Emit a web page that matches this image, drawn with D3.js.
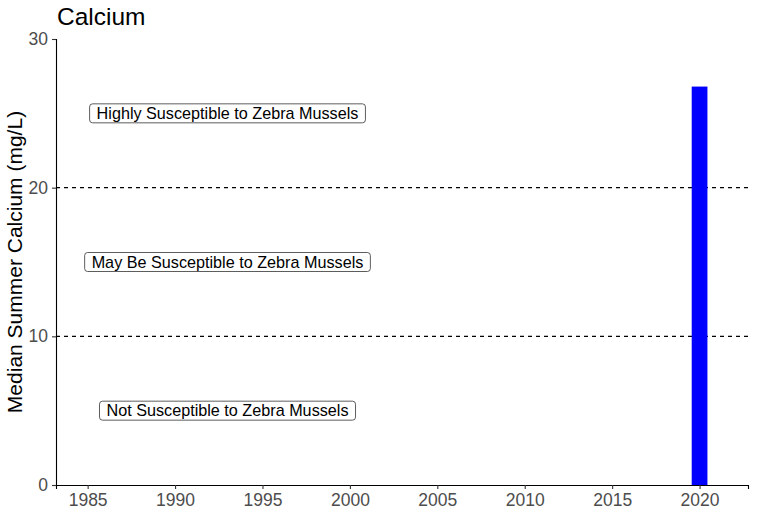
<!DOCTYPE html>
<html>
<head>
<meta charset="utf-8">
<script src="https://cdn.jsdelivr.net/npm/d3@7"></script>
<style>
  body { margin: 0; background: #fff; }
  text { font-family: "Liberation Sans", Arial, sans-serif; }
</style>
</head>
<body>
<div id="chart"></div>
<script>
// data
const years = [2020];
const calcium = [26.8];
const thresholds = [10, 20];
const zoneLabels = ["Highly Susceptible to Zebra Mussels", "May Be Susceptible to Zebra Mussels", "Not Susceptible to Zebra Mussels"];
const zoneY = [25, 15, 5];
const zoneX = 1993;
const xTicks = [1985, 1990, 1995, 2000, 2005, 2010, 2015, 2020];
const yTicks = [0, 10, 20, 30];

const svgWidth = 759, svgHeight = 519;
const margin = {top: 39, right: 11, bottom: 34, left: 56};
const width = svgWidth - margin.left - margin.right,
      height = svgHeight - margin.top - margin.bottom;

let x = d3.scaleLinear().domain([1983.19, 2022.77]).range([0, width]);
let y = d3.scaleLinear().domain([0, 30]).range([height, 0]);

let svg = d3.select("#chart").append("svg")
    .attr("width", svgWidth)
    .attr("height", svgHeight);

let g = svg.append("g")
    .attr("transform", "translate(" + margin.left + "," + margin.top + ")");

// threshold lines
g.selectAll(".thresh")
    .data(thresholds)
    .enter().append("line")
    .attr("x1", 0).attr("x2", width)
    .attr("y1", d => y(d)).attr("y2", d => y(d))
    .attr("stroke", "#000")
    .attr("stroke-width", 1.1)
    .attr("stroke-dasharray", "4,4");

// bars
const barW = x(2020.45) - x(2019.55);
g.selectAll(".bar")
    .data(years)
    .enter().append("rect")
    .attr("class", "bar")
    .attr("x", d => x(d) - barW / 2)
    .attr("y", (d, i) => y(calcium[i]))
    .attr("width", barW)
    .attr("height", (d, i) => y(0) - y(calcium[i]))
    .attr("fill", "#0000ff");

// zone labels with boxes
let labels = g.selectAll(".zone")
    .data(zoneLabels)
    .enter().append("g")
    .attr("class", "zone");

labels.append("text")
    .text(d => d)
    .attr("x", x(zoneX))
    .attr("y", (d, i) => y(zoneY[i]))
    .attr("dy", "0.36em")
    .attr("text-anchor", "middle")
    .attr("font-size", "16.2px")
    .attr("fill", "#000");

labels.each(function() {
    let t = d3.select(this).select("text");
    let bb = t.node().getBBox();
    let cy = +t.attr("y");
    d3.select(this).insert("rect", "text")
        .attr("x", bb.x - 7)
        .attr("y", cy - 9.5)
        .attr("width", bb.width + 14)
        .attr("height", 19)
        .attr("rx", 3).attr("ry", 3)
        .attr("fill", "#fff")
        .attr("stroke", "#333")
        .attr("stroke-width", 0.8);
});

// axes
let xAxis = g.append("g")
    .attr("transform", "translate(0," + height + ")")
    .call(d3.axisBottom(x).tickValues(xTicks).tickFormat(d3.format("d")).tickSizeOuter(0).tickSize(4).tickPadding(5));

let yAxis = g.append("g")
    .call(d3.axisLeft(y).tickValues(yTicks).tickSizeOuter(0).tickSize(4).tickPadding(4));

[xAxis, yAxis].forEach(a => {
    a.select(".domain").attr("stroke", "#000").attr("stroke-width", 1.1);
    a.selectAll(".tick line").attr("stroke", "#333").attr("stroke-width", 1.1);
    a.selectAll(".tick text").attr("fill", "#4d4d4d").attr("font-size", "17.5px")
        .style("font-family", "'Liberation Sans', Arial, sans-serif");
});

// title
svg.append("text")
    .text("Calcium")
    .attr("x", 57)
    .attr("y", 25)
    .attr("font-size", "24.5px")
    .attr("fill", "#000");

// y axis title
svg.append("text")
    .text("Median Summer Calcium (mg/L)")
    .attr("transform", "translate(22," + (margin.top + height / 2) + ") rotate(-90)")
    .attr("text-anchor", "middle")
    .attr("font-size", "21px")
    .attr("fill", "#000");
</script>
</body>
</html>
